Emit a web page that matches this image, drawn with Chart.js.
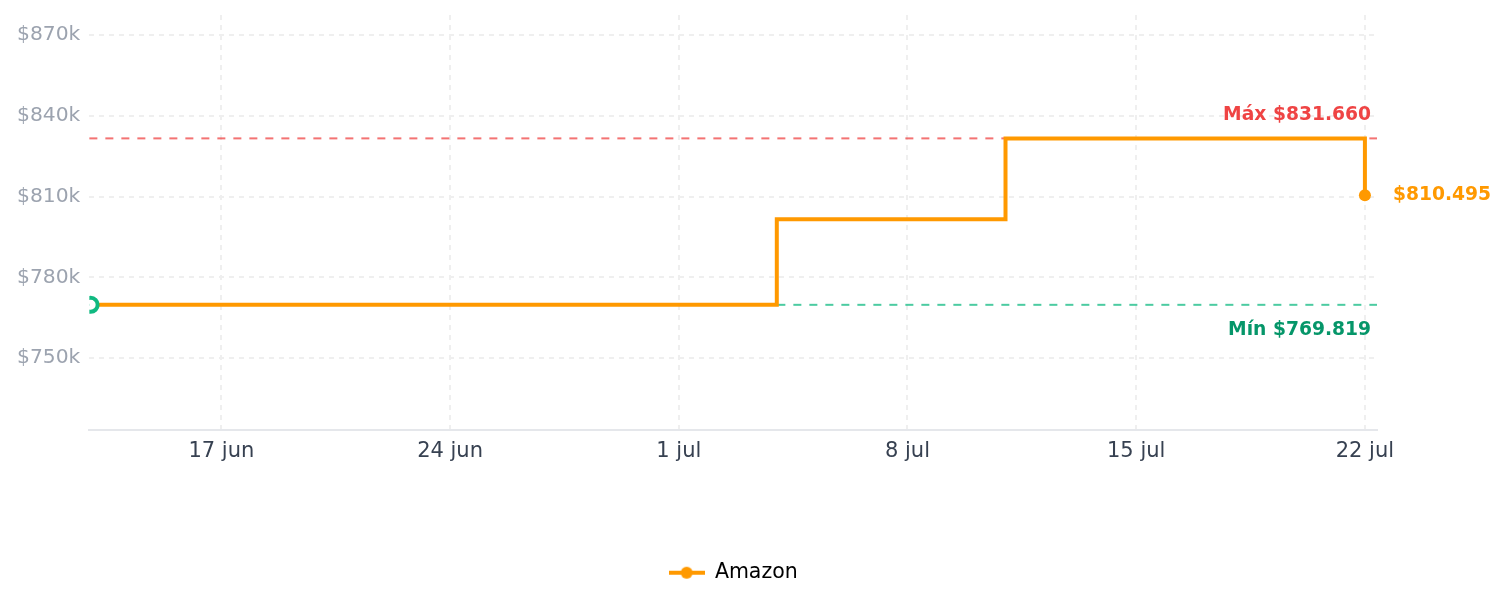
<!DOCTYPE html>
<html>
<head>
<meta charset="utf-8">
<script src="https://cdn.jsdelivr.net/npm/chart.js@4.4.1/dist/chart.umd.min.js"></script>
<style>
  html, body { margin: 0; padding: 0; background: #fff; }
  #wrap { width: 1505px; height: 607px; }
</style>
</head>
<body>
<div id="wrap"><canvas id="price-chart"></canvas></div>
<script>
// price history (steps)
const dates = ["2024-06-13", "2024-07-04", "2024-07-11", "2024-07-22"];
const prices = [769819, 801600, 831660, 810495];
const tickDates = ["2024-06-17", "2024-06-24", "2024-07-01", "2024-07-08", "2024-07-15", "2024-07-22"];
const tickLabels = ["17 jun", "24 jun", "1 jul", "8 jul", "15 jul", "22 jul"];
const yTicks = [750000, 780000, 810000, 840000, 870000];

const orange = '#ff9900';
const day = s => Date.parse(s + 'T00:00:00Z') / 864e5;
const fmt = v => '$' + String(v).replace(/\B(?=(\d{3})+(?!\d))/g, '.');

const maxPrice = Math.max(...prices);
const minPrice = Math.min(...prices);
const n = prices.length;

Chart.defaults.font.family = 'DejaVu Sans';

// legend marker: line with dot
const legendIcon = document.createElement('canvas');
legendIcon.width = 36;
legendIcon.height = 14;
const g = legendIcon.getContext('2d');
g.strokeStyle = orange;
g.lineWidth = 4;
g.beginPath(); g.moveTo(0, 7); g.lineTo(36, 7); g.stroke();
g.fillStyle = orange;
g.beginPath(); g.arc(18, 7, 6, 0, Math.PI * 2); g.fill();

const refLines = {
  id: 'refLines',
  beforeDatasetsDraw(chart) {
    const {ctx, chartArea: a, scales: {y}} = chart;
    ctx.save();
    ctx.lineWidth = 2;
    ctx.setLineDash([8, 8]);
    [[maxPrice, 'rgba(239,68,68,0.75)'], [minPrice, 'rgba(16,185,129,0.75)']].forEach(([v, c]) => {
      const py = y.getPixelForValue(v);
      ctx.strokeStyle = c;
      ctx.beginPath(); ctx.moveTo(a.left, py); ctx.lineTo(a.right, py); ctx.stroke();
    });
    ctx.restore();
  },
  afterDatasetsDraw(chart) {
    const {ctx, chartArea: a, scales: {x, y}} = chart;
    ctx.save();
    ctx.font = 'bold 18.7px "DejaVu Sans"';
    ctx.textBaseline = 'alphabetic';
    ctx.textAlign = 'right';
    ctx.fillStyle = '#ef4444';
    ctx.fillText('Máx ' + fmt(maxPrice), a.right - 6, y.getPixelForValue(maxPrice) - 18);
    ctx.fillStyle = '#059669';
    ctx.fillText('Mín ' + fmt(minPrice), a.right - 6, y.getPixelForValue(minPrice) + 30);
    ctx.textAlign = 'left';
    ctx.fillStyle = orange;
    const lx = x.getPixelForValue(day(dates[n - 1]));
    const ly = y.getPixelForValue(prices[n - 1]);
    ctx.fillText(fmt(prices[n - 1]), lx + 28, ly + 5);
    ctx.restore();
  }
};

new Chart(document.getElementById('price-chart'), {
  type: 'line',
  data: {
    datasets: [{
      label: 'Amazon',
      data: dates.map((d, i) => ({x: day(d), y: prices[i]})),
      borderColor: orange,
      backgroundColor: orange,
      borderWidth: 4,
      stepped: 'before',
      pointRadius: c => c.dataIndex === 0 ? 7 : (c.dataIndex === n - 1 ? 6 : 0),
      pointBackgroundColor: c => c.dataIndex === 0 ? '#ffffff' : orange,
      pointBorderColor: c => c.dataIndex === 0 ? '#10b981' : orange,
      pointBorderWidth: c => c.dataIndex === 0 ? 4 : 0
    }]
  },
  options: {
    responsive: true,
    maintainAspectRatio: false,
    animation: false,
    layout: { padding: { top: 15, left: 8, right: 128, bottom: 14 } },
    scales: {
      x: {
        type: 'linear',
        min: day(dates[0]) - 0.04,
        max: day(dates[n - 1]) + 0.37,
        afterBuildTicks: s => { s.ticks = tickDates.map(d => ({value: day(d)})); },
        afterFit: s => { s.height = 123; },
        ticks: {
          callback: (v, i) => tickLabels[i],
          color: '#374151',
          font: { size: 21 },
          padding: 9,
          maxRotation: 0
        },
        grid: { color: '#efefef', lineWidth: 2, drawTicks: false },
        border: { display: true, color: '#e5e7eb', width: 2, dash: [5, 5] }
      },
      y: {
        min: 723500,
        max: 877500,
        afterBuildTicks: s => { s.ticks = yTicks.map(v => ({value: v})); },
        afterFit: s => { s.paddingTop = 0; s.paddingBottom = 0; },
        ticks: {
          callback: v => '$' + (v / 1000) + 'k',
          color: '#9ca3af',
          font: { size: 20.3 },
          padding: 9
        },
        grid: { color: '#efefef', lineWidth: 2, drawTicks: false },
        border: { display: false, dash: [5, 5] }
      }
    },
    plugins: {
      tooltip: { enabled: false },
      legend: {
        position: 'bottom',
        fullSize: false,
        labels: {
          usePointStyle: true,
          pointStyleWidth: 36,
          color: '#111111',
          font: { size: 20.5 },
          generateLabels: () => [{
            text: 'Amazon',
            pointStyle: legendIcon,
            fillStyle: orange,
            strokeStyle: orange,
            lineWidth: 0,
            hidden: false,
            datasetIndex: 0
          }]
        }
      }
    }
  },
  plugins: [refLines]
});
</script>
</body>
</html>
